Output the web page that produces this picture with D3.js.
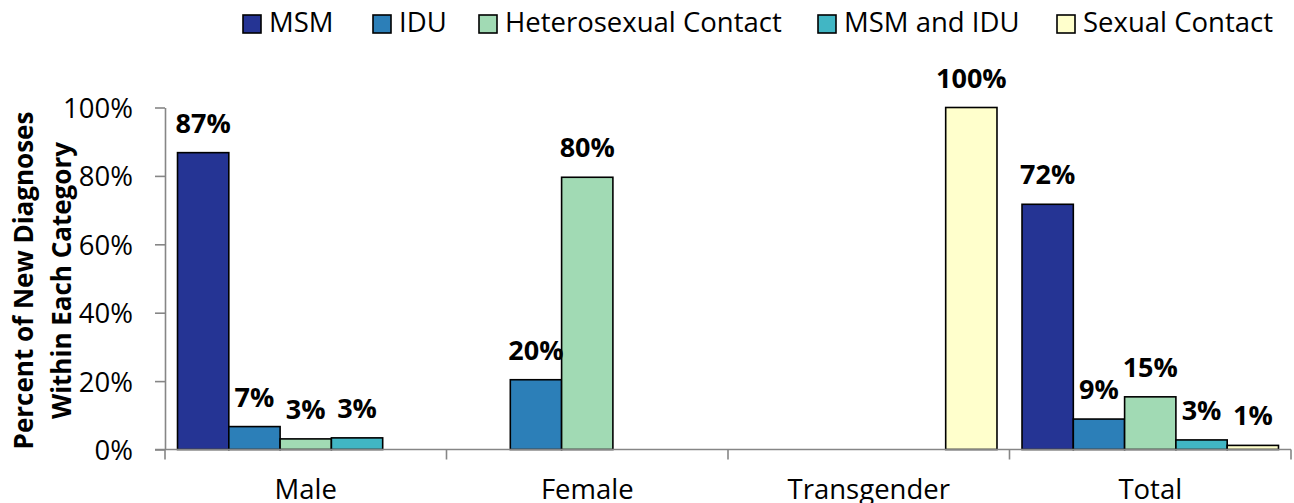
<!DOCTYPE html>
<html>
<head>
<meta charset="utf-8">
<script src="https://cdn.jsdelivr.net/npm/d3@7"></script>
<style>
  html, body { margin: 0; padding: 0; background: #fff; }
  svg { display: block; font-family: "Open Sans", "Noto Sans", sans-serif; }
</style>
</head>
<body>
<svg id="chart" width="1294" height="503"></svg>
<script>
// ---- data ----
const categories = ["Male", "Female", "Transgender", "Total"];
const series = ["MSM", "IDU", "Heterosexual Contact", "MSM and IDU", "Sexual Contact"];
const colors = ["#253494", "#2c7fb8", "#a1dab4", "#41b6c4", "#ffffcc"];
// values per series, aligned with categories (null = no bar)
const msm        = [0.868, null, null, 0.717];
const idu        = [0.067, 0.204, null, 0.089];
const hetero     = [0.031, 0.796, null, 0.154];
const msmIdu     = [0.034, null, null, 0.028];
const sexual     = [null, null, 1.0, 0.012];
const yTicks = [0, 0.2, 0.4, 0.6, 0.8, 1.0];
const yTitle = ["Percent of New Diagnoses", "Within Each Category"];

const seriesValues = [msm, idu, hetero, msmIdu, sexual];

// ---- layout ----
const svg = d3.select("#chart");
const plot = { left: 165, right: 1291, top: 107.5, bottom: 449.5 };
const axisColor = "#868686";
const legendX = [243, 373, 479, 818, 1057];

const x0 = d3.scaleBand().domain(categories).range([plot.left, plot.right]).padding(0);
const x1 = d3.scaleBand().domain(series).range([0, x0.bandwidth()]).paddingInner(0).paddingOuter(0.244);
const y = d3.scaleLinear().domain([0, 1]).range([plot.bottom, plot.top]);
const color = d3.scaleOrdinal().domain(series).range(colors);

const rows = [];
series.forEach((s, si) => {
  categories.forEach((c, ci) => {
    const v = seriesValues[si][ci];
    if (v !== null && v !== undefined) rows.push({ series: s, category: c, value: v });
  });
});

// bars
svg.append("g").selectAll("rect").data(rows).join("rect")
  .attr("x", d => x0(d.category) + x1(d.series))
  .attr("y", d => y(d.value))
  .attr("width", x1.bandwidth())
  .attr("height", d => y(0) - y(d.value))
  .attr("fill", d => color(d.series))
  .attr("stroke", "#000")
  .attr("stroke-width", 1.6);

// y axis
const yAxis = svg.append("g")
  .attr("transform", `translate(${plot.left},0)`)
  .call(d3.axisLeft(y).tickValues(yTicks).tickFormat(d3.format(".0%")).tickSize(10).tickSizeOuter(0).tickPadding(22));
yAxis.select(".domain").attr("stroke", axisColor).attr("stroke-width", 1.6);
yAxis.selectAll(".tick line").attr("stroke", axisColor).attr("stroke-width", 1.6);
yAxis.selectAll(".tick text")
  .attr("font-size", 27.5).attr("fill", "#000")
  .attr("font-family", "'Open Sans', sans-serif")
  .attr("dy", "0.36em");

// x axis
const xAxis = svg.append("g").attr("transform", `translate(0,${plot.bottom})`)
  .call(d3.axisBottom(x0).tickSize(0).tickPadding(50));
xAxis.select(".domain").remove();
xAxis.selectAll(".tick text")
  .attr("font-size", 27.5).attr("fill", "#000")
  .attr("font-family", "'Open Sans', sans-serif")
  .attr("dy", 0).attr("y", 49.5);
svg.append("line")
  .attr("x1", plot.left - 10).attr("x2", plot.right)
  .attr("y1", y(0)).attr("y2", y(0))
  .attr("stroke", axisColor).attr("stroke-width", 1.6);
const bounds = categories.map(c => x0(c)).concat([x0.range()[1]]);
svg.append("g").selectAll("line").data(bounds).join("line")
  .attr("x1", d => d).attr("x2", d => d)
  .attr("y1", y(0)).attr("y2", y(0) + 10)
  .attr("stroke", axisColor).attr("stroke-width", 1.6);

// data labels
svg.append("g").selectAll("text").data(rows).join("text")
  .attr("x", d => x0(d.category) + x1(d.series) + x1.bandwidth() / 2)
  .attr("y", d => y(d.value) - 20)
  .attr("text-anchor", "middle")
  .attr("font-size", 27)
  .attr("font-weight", "bold")
  .attr("fill", "#000")
  .text(d => d3.format(".0%")(d.value));

// y title
const title = svg.append("text")
  .attr("transform", `translate(0,${(plot.top + plot.bottom) / 2 + 2}) rotate(-90)`)
  .attr("text-anchor", "middle")
  .attr("font-size", 26)
  .attr("font-weight", "bold")
  .attr("fill", "#000");
title.selectAll("tspan").data(yTitle).join("tspan")
  .attr("x", 0)
  .attr("y", (d, i) => i === 0 ? 33 : 71)
  .text(d => d);

// legend
const legend = svg.append("g");
series.forEach((s, i) => {
  const g = legend.append("g").attr("transform", `translate(${legendX[i]},0)`);
  g.append("rect").attr("x", 0).attr("y", 15).attr("width", 18).attr("height", 18)
    .attr("fill", color(s)).attr("stroke", "#000").attr("stroke-width", 1.6);
  g.append("text").attr("x", 26).attr("y", 32)
    .attr("font-size", 27.5).attr("fill", "#000").text(s);
});
</script>
</body>
</html>
